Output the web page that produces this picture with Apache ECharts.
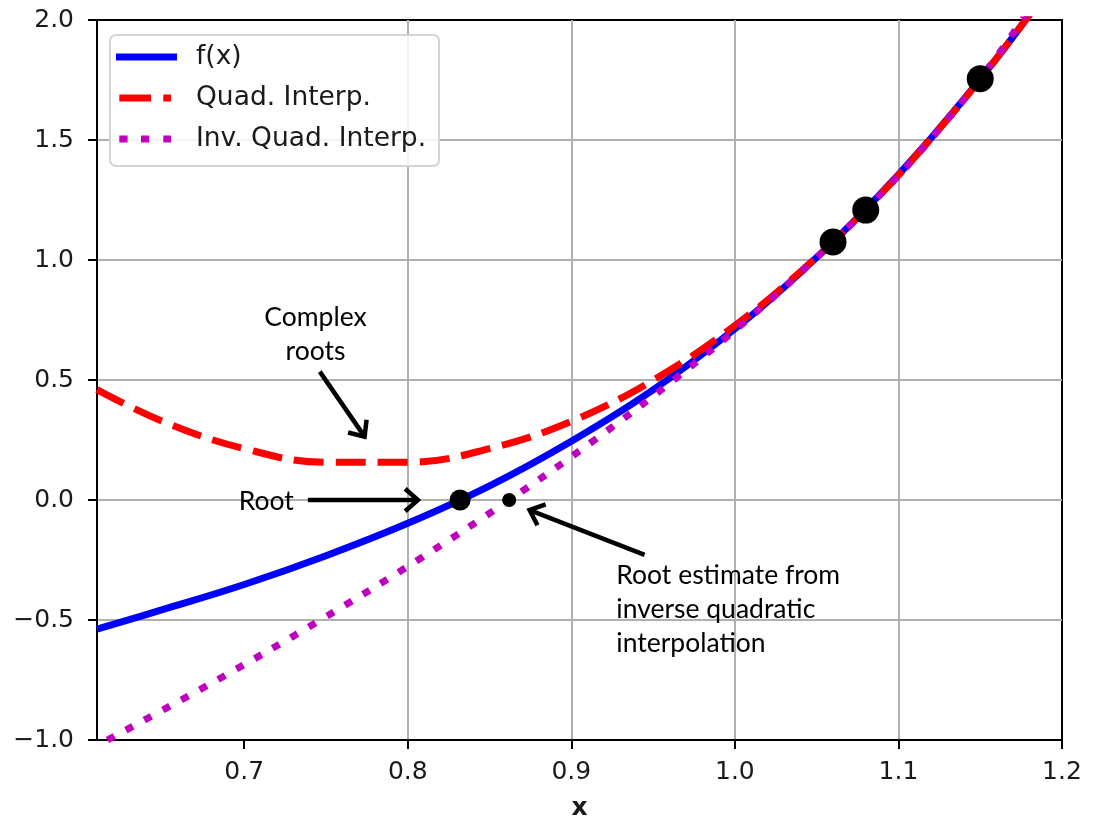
<!DOCTYPE html>
<html>
<head>
<meta charset="UTF-8">
<title>Quadratic vs inverse quadratic interpolation</title>
<script src="https://cdn.jsdelivr.net/npm/echarts@6/dist/echarts.min.js"></script>
<style>
  html, body { margin: 0; padding: 0; background: #fff; }
  #chart { width: 1093px; height: 817px; }
</style>
</head>
<body>
<div id="chart"></div>
<script>
// values
var xTicks = [0.7, 0.8, 0.9, 1.0, 1.1, 1.2];
var curveX = [0.61, 0.65, 0.70, 0.75, 0.80, 0.85, 0.90, 0.95, 1.00, 1.04, 1.08, 1.12, 1.16, 1.20];
var fY     = [-0.538, -0.457, -0.352, -0.232, -0.097, 0.059, 0.245, 0.459, 0.713, 0.947, 1.211, 1.508, 1.840, 2.210];
var quadY  = [0.460, 0.328, 0.214, 0.157, 0.157, 0.214, 0.328, 0.499, 0.727, 0.951, 1.210, 1.507, 1.840, 2.209];
// inverse quadratic: x given as function of y
var invY = [-1.0, -0.75, -0.5, -0.25, 0, 0.25, 0.5, 0.75, 1.0, 1.25, 1.5, 1.75, 2.0, 2.25];
var invX = [0.6164, 0.6834, 0.7466, 0.8062, 0.862, 0.9142, 0.9626, 1.0074, 1.0484, 1.0858, 1.1194, 1.1493, 1.1756, 1.198];
var pointX = [1.06, 1.08, 1.15];
var pointY = [1.075, 1.208, 1.755];
var rootPt = [0.832, 0];
var estPt = [0.862, 0];

// annotations (data coords): arrows tail -> tip, and text anchors
var arrows = [
  [0.7462, 0.535, 0.7736, 0.264],
  [0.7389, 0.0, 0.8062, 0.0],
  [0.9448, -0.229, 0.8745, -0.042]
];
var noteText = ['Complex\nroots', 'Root', 'Root estimate from\ninverse quadratic\ninterpolation'];
var noteAt = [[0.7436, 0.688], [0.7303, -0.004], [0.9275, -0.245]];
var noteAlign = ['center', 'right', 'left'];
var noteVAlign = ['middle', 'middle', 'top'];

function zip(a, b) {
  var out = [];
  for (var i = 0; i < a.length; i++) out.push([a[i], b[i]]);
  return out;
}
function fmt(v) {
  return v.toFixed(1).replace('-', '\u2212');
}

var tickFont = 'DejaVu Sans';
var noteFont = 'Lato';
// legend handles, 61 x 7 boxes (tiny corner squares keep the box size)
var edge = 'M0,0h0.01v0.01h-0.01z M60.99,6.99h0.01v0.01h-0.01z ';
var iconSolid = 'path://M0,0h61v7h-61z';
var iconDash = 'path://' + edge + 'M3.3,0h31.7v7h-31.7z M47.3,0h7.7v7h-7.7z';
var iconDot = 'path://' + edge + 'M3.3,0h8.3v7h-8.3z M25,0h8.3v7h-8.3z M47.3,0h7.7v7h-7.7z';

var option = {
  animation: false,
  grid: {
    left: 97, right: 31, top: 20, bottom: 77,
    containLabel: false, outerBoundsMode: 'none',
    show: true, borderColor: '#000', borderWidth: 2
  },
  legend: {
    orient: 'vertical',
    left: 110, top: 35,
    data: [
      { name: 'f(x)', icon: iconSolid },
      { name: 'Quad. Interp.', icon: iconDash },
      { name: 'Inv. Quad. Interp.', icon: iconDot }
    ],
    itemWidth: 61, itemHeight: 7, itemGap: 11,
    itemStyle: { borderWidth: 0 },
    padding: [7, 13, 12, 6],
    backgroundColor: 'rgba(255,255,255,0.85)',
    borderColor: '#d4d4d4', borderWidth: 2, borderRadius: 6,
    textStyle: { fontFamily: tickFont, fontSize: 26.5, color: '#1a1a1a', lineHeight: 30, padding: [0, 0, 0, 14] }
  },
  xAxis: {
    type: 'value', min: 0.61, max: 1.2,
    name: 'x', nameLocation: 'middle', nameGap: 56,
    nameTextStyle: { fontFamily: tickFont, fontSize: 25, fontWeight: 'bold', color: '#1a1a1a' },
    axisLine: { show: true, onZero: false, lineStyle: { color: '#000', width: 2 } },
    axisTick: { show: true, customValues: xTicks, length: 9, lineStyle: { color: '#000', width: 2 } },
    axisLabel: { customValues: xTicks, formatter: fmt, margin: 20, fontFamily: tickFont, fontSize: 25, color: '#1a1a1a' },
    splitLine: { show: true, showMinLine: false, showMaxLine: false, lineStyle: { color: '#b0b0b0', width: 2 } }
  },
  yAxis: {
    type: 'value', min: -1, max: 2, interval: 0.5,
    axisLine: { show: true, onZero: false, lineStyle: { color: '#000', width: 2 } },
    axisTick: { show: true, length: 9, lineStyle: { color: '#000', width: 2 } },
    axisLabel: { formatter: fmt, margin: 23, fontFamily: tickFont, fontSize: 25, color: '#1a1a1a' },
    splitLine: { show: true, showMinLine: false, showMaxLine: false, lineStyle: { color: '#b0b0b0', width: 2 } }
  },
  series: [
    {
      name: 'f(x)', type: 'line', data: zip(curveX, fY), smooth: 0.4,
      showSymbol: false, symbol: 'none',
      lineStyle: { color: '#0000ff', width: 7 }, itemStyle: { color: '#0000ff' }
    },
    {
      name: 'Quad. Interp.', type: 'line', data: zip(curveX, quadY), smooth: 0.4,
      showSymbol: false, symbol: 'none',
      lineStyle: { color: '#ff0000', width: 7, type: [30, 12], cap: 'butt' }, itemStyle: { color: '#ff0000' }
    },
    {
      name: 'Inv. Quad. Interp.', type: 'line', data: zip(invX, invY), smooth: 0.4,
      showSymbol: false, symbol: 'none',
      lineStyle: { color: '#bf00bf', width: 7, type: [8, 13], cap: 'butt' }, itemStyle: { color: '#bf00bf' }
    },
    {
      type: 'scatter', data: zip(pointX, pointY), symbolSize: 27,
      itemStyle: { color: '#000', opacity: 1 }, z: 5
    },
    {
      type: 'scatter', data: [rootPt], symbolSize: 21,
      itemStyle: { color: '#000', opacity: 1 }, z: 5
    },
    {
      type: 'scatter', data: [estPt], symbolSize: 14,
      itemStyle: { color: '#000', opacity: 1 }, z: 5
    },
    {
      type: 'custom', data: arrows, encode: { x: [0, 2], y: [1, 3] }, z: 6,
      renderItem: function (params, api) {
        var p1 = api.coord([api.value(0), api.value(1)]);
        var p2 = api.coord([api.value(2), api.value(3)]);
        var ang = Math.atan2(p2[1] - p1[1], p2[0] - p1[0]);
        var len = 17, spread = 0.72;
        var a1 = [p2[0] - len * Math.cos(ang - spread), p2[1] - len * Math.sin(ang - spread)];
        var a2 = [p2[0] - len * Math.cos(ang + spread), p2[1] - len * Math.sin(ang + spread)];
        return {
          type: 'group',
          children: [
            { type: 'line', shape: { x1: p1[0], y1: p1[1], x2: p2[0], y2: p2[1] },
              style: { stroke: '#000', lineWidth: 4.5 } },
            { type: 'polyline', shape: { points: [a1, p2, a2] },
              style: { stroke: '#000', lineWidth: 4.5, fill: null } }
          ]
        };
      }
    },
    {
      type: 'custom', data: noteAt, z: 6,
      renderItem: function (params, api) {
        var i = params.dataIndex;
        var p = api.coord([api.value(0), api.value(1)]);
        return {
          type: 'text', x: p[0], y: p[1],
          style: {
            text: noteText[i], fill: '#000',
            font: '26.5px ' + noteFont, lineHeight: 34,
            align: noteAlign[i], textAlign: noteAlign[i],
            verticalAlign: noteVAlign[i], textVerticalAlign: noteVAlign[i]
          }
        };
      }
    }
  ]
};

var chart = echarts.init(document.getElementById('chart'));
chart.setOption(option);
</script>
</body>
</html>
